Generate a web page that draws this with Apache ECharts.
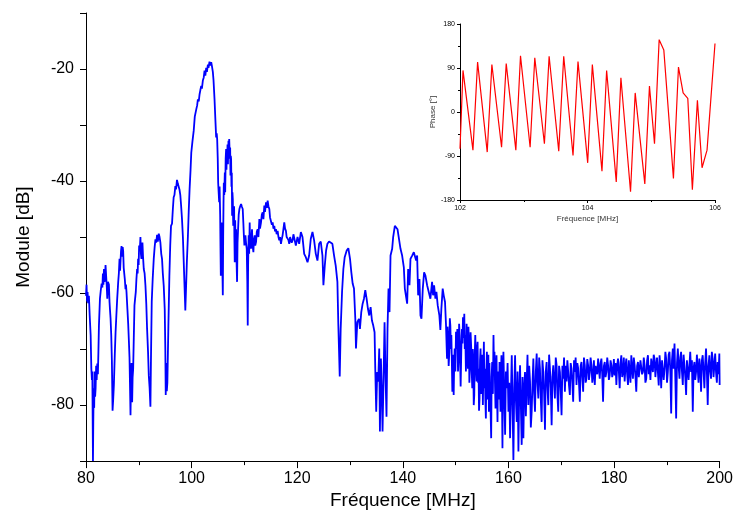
<!DOCTYPE html>
<html>
<head>
<meta charset="utf-8">
<script src="https://cdn.jsdelivr.net/npm/echarts@6/dist/echarts.min.js"></script>
<style>
html,body{margin:0;padding:0;background:#fff;}
#chart{width:736px;height:515px;}
</style>
</head>
<body>
<div id="chart"></div>
<script>
// Main spectrum: [frequency MHz, module dB]
const spectrum80to100 = [[80.0,-60.5],[80.1,-58.5],[80.2,-61.5],[80.3,-59.8],[80.4,-61.8],[80.55,-60.5],[80.7,-64],[80.88,-67.5],[81.01,-73.5],[81.12,-75.5],[81.2,-74],[81.32,-90],[81.38,-83],[81.46,-77],[81.55,-80.5],[81.64,-74],[81.73,-78.5],[81.82,-77],[81.92,-73],[82.02,-75.5],[82.14,-72.6],[82.25,-74.5],[82.35,-70.5],[82.45,-65.8],[82.64,-61],[82.8,-59.5],[82.96,-58.3],[83.1,-59],[83.2,-56.5],[83.3,-58.5],[83.4,-55.7],[83.5,-58],[83.59,-57.5],[83.7,-55],[83.84,-55],[83.94,-59],[84.03,-61],[84.15,-58],[84.34,-58.5],[84.45,-61.5],[84.53,-62.8],[84.65,-64.5],[84.78,-67.5],[84.9,-72],[85.03,-81],[85.15,-79],[85.28,-76.4],[85.45,-71],[85.6,-67],[85.75,-64],[85.91,-61],[86.1,-58],[86.22,-56.5],[86.35,-53.9],[86.45,-56],[86.54,-55.7],[86.63,-52.5],[86.73,-51.6],[86.85,-53.5],[86.95,-51.8],[87.04,-52.5],[87.14,-55.5],[87.23,-55.7],[87.35,-57.5],[87.48,-59.3],[87.57,-58.5],[87.67,-59.8],[87.85,-63],[87.99,-65.5],[88.12,-68.5],[88.24,-71.5],[88.43,-81.8],[88.52,-76],[88.62,-72.5],[88.68,-76],[88.74,-79.5],[88.83,-75],[88.93,-73.6],[89.05,-68],[89.18,-62.2],[89.3,-61],[89.43,-59.8],[89.55,-57.5],[89.68,-55.7],[89.78,-56.5],[89.87,-53.9],[89.97,-55],[90.06,-51.5],[90.18,-52.5],[90.31,-50],[90.4,-53],[90.5,-53.9],[90.6,-51.5],[90.69,-51],[90.8,-53.5],[90.94,-55.7],[91.1,-56.5],[91.26,-58.7],[91.42,-62],[91.57,-66.4],[91.75,-70.5],[91.89,-74.7],[92.05,-77],[92.2,-80.3],[92.3,-72],[92.45,-61.5],[92.63,-57.5],[92.83,-53.9],[93.0,-51.8],[93.15,-50.4],[93.3,-51],[93.46,-49.6],[93.6,-50.8],[93.78,-49.4],[93.93,-50],[94.09,-51],[94.25,-53],[94.4,-53.9],[94.55,-56.5],[94.72,-58.7],[94.91,-62.9],[95.02,-70],[95.1,-78.2],[95.16,-72.5],[95.22,-73.6],[95.3,-77.5],[95.41,-76],[95.6,-66],[95.79,-56.9],[95.95,-51.5],[96.1,-48],[96.29,-47.6],[96.45,-45],[96.6,-42.9],[96.75,-42.5],[96.92,-40.9],[97.05,-41.5],[97.23,-39.8],[97.4,-40.5],[97.55,-40.5],[97.7,-41.5],[97.86,-42.5],[98.02,-44.5],[98.18,-46.8],[98.35,-50],[98.49,-53.9],[98.65,-58.5],[98.81,-63.1],[98.95,-59],[99.1,-54.5],[99.3,-49.8],[99.45,-45.5],[99.62,-41.4],[99.8,-38],[99.94,-34.9]];

const spectrum100to119 = [[100.15,-33],[100.4,-31],[100.6,-28.5],[100.88,-27.2],[101.05,-26.5],[101.19,-25.4],[101.35,-25.8],[101.51,-24.5],[101.65,-23.8],[101.82,-23],[101.95,-23.5],[102.14,-22],[102.3,-21.5],[102.45,-20.3],[102.6,-21.2],[102.76,-19.8],[102.9,-20.5],[103.08,-19.2],[103.2,-19.8],[103.39,-18.7],[103.55,-19.4],[103.71,-18.8],[103.85,-19.5],[104.02,-20.5],[104.15,-22],[104.34,-25.4],[104.5,-29],[104.65,-32.2],[104.75,-31.5],[104.84,-32.5],[104.95,-36],[105.03,-40.3],[105.12,-42],[105.22,-43.8],[105.3,-41],[105.41,-46.2],[105.47,-52],[105.53,-56.9],[105.6,-50],[105.66,-47.4],[105.72,-55],[105.78,-52.1],[105.85,-57],[105.91,-60.4],[105.98,-50],[106.04,-44],[106.1,-40.3],[106.18,-42.5],[106.29,-38.5],[106.36,-42],[106.45,-36],[106.54,-34.3],[106.6,-38],[106.67,-35],[106.73,-36.7],[106.8,-33.5],[106.88,-37],[106.98,-32.8],[107.05,-35.5],[107.12,-32.5],[107.17,-32.2],[107.24,-36],[107.3,-34],[107.36,-39],[107.42,-35.5],[107.48,-36.1],[107.55,-41],[107.61,-38.5],[107.67,-46.2],[107.73,-42],[107.8,-43.2],[107.88,-48],[107.98,-47.4],[108.05,-44.5],[108.1,-50],[108.17,-54.5],[108.25,-47],[108.32,-51],[108.42,-48.6],[108.5,-54],[108.61,-58],[108.7,-51],[108.8,-48.6],[108.92,-46],[109.05,-45],[109.2,-44.5],[109.37,-44.1],[109.52,-44.6],[109.68,-45],[109.8,-47.5],[109.9,-49.8],[110.0,-51.5],[110.1,-50.5],[110.19,-49.7],[110.3,-51],[110.44,-52.1],[110.55,-58],[110.63,-65.8],[110.7,-55],[110.75,-52.5],[110.81,-49.7],[110.9,-53],[111.0,-47.4],[111.08,-51],[111.16,-49.5],[111.25,-52.1],[111.35,-50],[111.44,-48.6],[111.55,-51.5],[111.7,-52.7],[111.8,-50.5],[111.95,-49.7],[112.05,-51.5],[112.2,-50.9],[112.35,-49],[112.51,-48.6],[112.65,-50],[112.83,-46.8],[112.95,-48.5],[113.14,-47.4],[113.3,-46],[113.46,-45.6],[113.6,-46.8],[113.77,-44.4],[113.9,-45.5],[114.09,-43.8],[114.25,-44.8],[114.4,-43.5],[114.55,-44.5],[114.72,-45],[114.85,-46.5],[115.03,-46.8],[115.2,-47.8],[115.35,-47.4],[115.5,-48.5],[115.66,-48],[115.8,-49],[115.97,-48.6],[116.1,-49.5],[116.29,-48.9],[116.45,-50],[116.6,-50.6],[116.75,-50],[116.92,-51.2],[117.05,-50.5],[117.23,-49.7],[117.4,-48.5],[117.55,-47.4],[117.7,-48.5],[117.86,-48.9],[118.0,-50],[118.17,-49.7],[118.32,-50.5],[118.49,-51.2],[118.65,-50],[118.8,-49.7],[118.95,-51],[119.12,-50.6],[119.28,-49.5]];

const spectrum119to140 = [[119.43,-49.4],[119.74,-51.5],[120.06,-50.0],[120.37,-51.2],[120.69,-49.1],[121.0,-50.0],[121.32,-53.0],[121.63,-53.6],[121.95,-54.5],[122.26,-53.3],[122.57,-50.3],[122.89,-49.1],[123.2,-50.6],[123.52,-53.0],[123.83,-54.2],[124.15,-51.2],[124.46,-50.8],[124.78,-53.3],[124.96,-58.6],[125.22,-55.1],[125.47,-52.4],[125.72,-51.2],[126.03,-50.8],[126.35,-50.6],[126.66,-51.2],[126.98,-53.3],[127.29,-55.1],[127.61,-58.0],[127.79,-65.8],[128.05,-74.9],[128.23,-66.4],[128.49,-59.8],[128.74,-55.7],[128.99,-53.6],[129.37,-52.4],[129.68,-52.0],[130.0,-53.9],[130.25,-56.3],[130.5,-58.3],[130.75,-59.2],[131.0,-64.6],[131.13,-69.9],[131.38,-65.2],[131.69,-64.6],[131.88,-66.4],[132.13,-63.4],[132.39,-61.9],[132.64,-61.0],[132.89,-59.5],[133.14,-61.0],[133.39,-62.8],[133.64,-64.0],[133.9,-62.5],[134.15,-64.9],[134.4,-65.8],[134.65,-67.0],[134.78,-73.5],[134.96,-81.2],[135.15,-74.1],[135.34,-75.8],[135.53,-69.9],[135.66,-84.7],[135.85,-71.7],[136.03,-78.2],[136.16,-84.7],[136.35,-75.2],[136.54,-65.2],[136.73,-75.2],[136.91,-82.1],[137.1,-66.4],[137.29,-59.2],[137.48,-63.4],[137.67,-53.3],[137.98,-52.1],[138.17,-50.0],[138.49,-48.0],[138.74,-47.7],[138.99,-48.6],[139.24,-48.9],[139.56,-52.1],[139.87,-53.3],[140.19,-55.4]];

const spectrum140to159 = [[140.38,-59.2],[140.63,-59.2],[140.82,-61.9],[141.01,-55.7],[141.26,-58.6],[141.45,-53.9],[141.77,-53.3],[142.08,-52.7],[142.27,-52.4],[142.52,-54.2],[142.71,-53.3],[142.9,-60.4],[143.15,-57.5],[143.34,-64.0],[143.53,-64.6],[143.78,-59.2],[144.03,-56.3],[144.28,-56.9],[144.6,-58.6],[144.91,-58.9],[145.22,-61.0],[145.54,-58.0],[145.73,-60.4],[145.92,-58.6],[146.17,-61.0],[146.36,-59.8],[146.61,-62.2],[146.92,-64.0],[147.11,-66.6],[147.3,-62.8],[147.55,-59.2],[147.74,-60.4],[147.99,-61.6],[148.18,-65.8],[148.28,-69],[148.37,-71.7],[148.47,-66],[148.56,-67.5],[148.68,-73],[148.81,-70.5],[148.9,-64.5],[149.0,-65.8],[149.1,-70],[149.19,-67.5],[149.28,-72],[149.38,-77.6],[149.5,-71],[149.63,-78.2],[149.72,-73],[149.82,-69.9],[149.95,-74],[150.07,-66.9],[150.2,-70],[150.32,-66.4],[150.45,-74],[150.57,-71.1],[150.66,-65.5],[150.76,-67.5],[150.85,-72],[150.95,-76.7],[151.08,-70],[151.2,-66.4],[151.3,-69],[151.39,-64.3],[151.52,-68],[151.64,-63.7],[151.73,-70],[151.83,-67.5],[151.95,-74],[152.08,-65.5],[152.2,-70],[152.33,-73.5],[152.42,-66],[152.52,-68.7],[152.6,-76],[152.71,-73.5],[152.83,-67],[152.96,-69.9],[153.05,-74],[153.15,-77.0],[153.25,-70],[153.34,-72.9],[153.43,-80],[153.53,-78.2],[153.62,-71],[153.72,-67.5],[153.85,-73],[153.97,-75.8],[154.06,-70],[154.16,-68.7],[154.25,-76],[154.34,-73.5],[154.43,-81],[154.53,-78.8],[154.62,-72],[154.72,-69.9],[154.85,-78],[154.97,-75.2],[155.06,-71],[155.16,-80.0],[155.25,-74],[155.35,-68.7],[155.45,-77],[155.54,-73.5],[155.63,-79],[155.73,-82.4],[155.82,-74],[155.92,-70.5],[156.02,-79],[156.11,-75.8],[156.2,-71],[156.3,-81.2],[156.4,-72.5],[156.48,-76.4],[156.6,-80],[156.73,-85.9],[156.82,-75],[156.92,-72.3],[157.05,-78],[157.17,-67.5],[157.27,-74],[157.36,-70.5],[157.45,-76],[157.55,-80.6],[157.65,-74],[157.74,-71.1],[157.83,-77],[157.93,-83.0],[158.02,-74],[158.12,-75.8],[158.22,-79],[158.31,-72.3],[158.4,-77],[158.5,-81.2],[158.6,-74],[158.68,-71.1],[158.78,-79],[158.87,-87.7],[158.96,-76]];

const spectrum159to200 = [[159.05,-70.5],[159.21,-78],[159.37,-85.3],[159.52,-74],[159.68,-77],[159.84,-72.5],[160.0,-81.2],[160.15,-76],[160.31,-85.9],[160.47,-78],[160.63,-71.1],[160.78,-80],[160.94,-89.8],[161.1,-77],[161.26,-71.1],[161.41,-79],[161.57,-83],[161.73,-74],[161.89,-88.3],[162.04,-78],[162.2,-72.9],[162.35,-80],[162.51,-87.1],[162.67,-75],[162.83,-85.9],[162.98,-77],[163.14,-74.1],[163.3,-82],[163.46,-75.8],[163.61,-71],[163.77,-80],[163.93,-73],[164.09,-75.8],[164.24,-84],[164.4,-81.2],[164.56,-76],[164.72,-71.7],[164.87,-78],[165.03,-81.2],[165.19,-74],[165.35,-70.8],[165.5,-76],[165.66,-78.8],[165.82,-71.5],[165.97,-73.5],[166.13,-79],[166.29,-83],[166.44,-72],[166.6,-74.1],[166.76,-78],[166.92,-84.4],[167.07,-74],[167.23,-72.3],[167.39,-77],[167.55,-80],[167.7,-71],[167.86,-73.5],[168.02,-77],[168.18,-83.6],[168.33,-75],[168.49,-72.9],[168.65,-76],[168.8,-78.8],[168.96,-71.5],[169.12,-72.9],[169.27,-78],[169.43,-81.2],[169.59,-73],[169.75,-74.1],[169.9,-77.5],[170.06,-81.8],[170.22,-73],[170.38,-75.3],[170.53,-71.5],[170.69,-77.6],[170.85,-73],[171.0,-75.8],[171.16,-72],[171.32,-74.1],[171.47,-76.5],[171.63,-78.2],[171.79,-72.5],[171.95,-73.5],[172.1,-76],[172.26,-79.4],[172.42,-72],[172.58,-74.1],[172.73,-71.5],[172.89,-76.4],[173.05,-72.5],[173.21,-73.5],[173.36,-76],[173.52,-79.4],[173.68,-73],[173.83,-72.3],[173.99,-75],[174.15,-77.6],[174.3,-71.5],[174.46,-72.9],[174.62,-76],[174.78,-75.3],[174.93,-71.8],[175.09,-72.9],[175.25,-75.5],[175.41,-74.1],[175.56,-71.5],[175.72,-72.9],[175.88,-76],[176.04,-74.7],[176.19,-72],[176.35,-76.4],[176.51,-73],[176.66,-72.9],[176.82,-74.5],[176.98,-71.7],[177.14,-73.5],[177.29,-75.3],[177.45,-72.5],[177.61,-71.7],[177.76,-74.5],[177.92,-79.4],[178.08,-73],[178.24,-72.3],[178.39,-75],[178.55,-74.1],[178.71,-71.5],[178.87,-72.9],[179.02,-75.5],[179.18,-74.7],[179.34,-72],[179.5,-72.9],[179.65,-75],[179.81,-74.1],[179.97,-71.8],[180.12,-74.7],[180.28,-72.5],[180.44,-76.4],[180.59,-73],[180.75,-71.7],[180.91,-74],[181.07,-77],[181.22,-72.5],[181.38,-71.1],[181.54,-75],[181.7,-74.1],[181.85,-71.5],[182.01,-75.8],[182.17,-73],[182.33,-71.7],[182.48,-74.5],[182.64,-76.4],[182.8,-72],[182.96,-74.1],[183.11,-76],[183.27,-71.1],[183.43,-73.5],[183.58,-75.3],[183.74,-71.5],[183.9,-72.9],[184.06,-75],[184.21,-77.6],[184.37,-73],[184.53,-72.3],[184.69,-75],[184.84,-75.3],[185.0,-72],[185.16,-71.7],[185.31,-74.5],[185.47,-74.1],[185.63,-71.5],[185.79,-72.9],[185.94,-76],[186.1,-75.3],[186.26,-72],[186.42,-71.1],[186.57,-74.5],[186.73,-72.9],[186.89,-75.5],[187.04,-71.7],[187.2,-73],[187.36,-74.1],[187.51,-71],[187.67,-71.7],[187.83,-75],[187.99,-72.9],[188.14,-71.5],[188.3,-74.1],[188.46,-76.5],[188.62,-71.1],[188.77,-73],[188.93,-77],[189.09,-72],[189.25,-72.3],[189.4,-75.5],[189.56,-73.5],[189.72,-70.5],[189.87,-71.7],[190.03,-76],[190.19,-74.1],[190.34,-71],[190.5,-70.5],[190.66,-74],[190.82,-81.5],[190.97,-72],[191.13,-69.9],[191.29,-73.5],[191.45,-69],[191.6,-75],[191.76,-82.4],[191.92,-72.5],[192.08,-69.9],[192.23,-73],[192.39,-75.3],[192.55,-71.5],[192.7,-70.5],[192.86,-74],[193.02,-76.4],[193.17,-71],[193.33,-72.9],[193.49,-75],[193.65,-78.2],[193.8,-72],[193.96,-71.7],[194.12,-75.5],[194.28,-72.9],[194.43,-70.5],[194.59,-74.1],[194.75,-72],[194.91,-81.2],[195.06,-73.5],[195.22,-72.3],[195.38,-75.5],[195.53,-74.1],[195.69,-71],[195.85,-73.5],[196.0,-76],[196.16,-71.7],[196.32,-73.5],[196.48,-77.6],[196.63,-72],[196.79,-71.1],[196.95,-74],[197.11,-77],[197.26,-72.5],[197.42,-69.9],[197.58,-74],[197.74,-80],[197.89,-73],[198.05,-71.1],[198.21,-74],[198.37,-75.3],[198.52,-70.5],[198.68,-71.7],[198.84,-75],[199.0,-72.9],[199.15,-70.8],[199.31,-74.1],[199.47,-76],[199.62,-72.3],[199.78,-74.5],[199.94,-70.8],[200.0,-76.4]];

// Inset: phase [deg] vs frequency [MHz]
const phaseInset = [[102.0,-75],[102.047,85],[102.203,-78],[102.276,102],[102.427,-82],[102.5,97],[102.652,-72],[102.725,99],[102.876,-78],[102.949,115],[103.1,-72],[103.173,111],[103.324,-65],[103.398,114],[103.549,-80],[103.627,114],[103.773,-89],[103.851,103],[104.003,-104],[104.076,97],[104.227,-121],[104.3,85],[104.451,-143],[104.524,70],[104.675,-163],[104.748,39],[104.899,-147],[104.972,53],[105.051,-65],[105.124,148],[105.197,127],[105.348,-136],[105.427,92],[105.5,39],[105.573,28],[105.645,-159],[105.724,24],[105.797,-114],[105.875,-78],[106.0,140]];

const mainData = [].concat(spectrum80to100, spectrum100to119, spectrum119to140, spectrum140to159, spectrum159to200);

const FONT = 'Liberation Sans, Arial, sans-serif';
const chart = echarts.init(document.getElementById('chart'), null, {renderer: 'canvas'});

function axisBase() {
  return {
    axisLine: {show: true, onZero: false, lineStyle: {color: '#000', width: 1}},
    axisTick: {show: true, inside: false, lineStyle: {color: '#000', width: 1}},
    splitLine: {show: false},
    nameTextStyle: {color: '#000', fontFamily: FONT},
  };
}

chart.setOption({
  animation: false,
  backgroundColor: '#fff',
  grid: [
    {left: 86, top: 13, width: 636, height: 449.5, containLabel: false},
    {left: 460, top: 24, width: 255, height: 176, containLabel: false}
  ],
  xAxis: [
    Object.assign(axisBase(), {
      gridIndex: 0, type: 'value', min: 80, max: 200, interval: 20,
      name: 'Fréquence [MHz]', nameLocation: 'middle', nameGap: 25,
      nameTextStyle: {color: '#000', fontFamily: FONT, fontSize: 19},
      axisTick: {show: true, inside: false, length: 7, lineStyle: {color: '#000'}},
      minorTick: {show: true, splitNumber: 2, length: 4, lineStyle: {color: '#000'}},
      axisLabel: {color: '#000', fontFamily: FONT, fontSize: 16, margin: 9}
    }),
    Object.assign(axisBase(), {
      gridIndex: 1, type: 'value', min: 102, max: 106, interval: 2,
      name: 'Fréquence [MHz]', nameLocation: 'middle', nameGap: 15,
      nameTextStyle: {color: '#333', fontFamily: FONT, fontSize: 8},
      axisTick: {show: true, inside: false, length: 3, lineStyle: {color: '#000'}},
      minorTick: {show: true, splitNumber: 2, length: 2, lineStyle: {color: '#000'}},
      axisLabel: {color: '#000', fontFamily: FONT, fontSize: 7, margin: 5}
    })
  ],
  yAxis: [
    Object.assign(axisBase(), {
      gridIndex: 0, type: 'value', min: -90, max: -10, interval: 10,
      name: 'Module [dB]', nameLocation: 'middle', nameGap: 53,
      nameTextStyle: {color: '#000', fontFamily: FONT, fontSize: 19},
      axisTick: {show: true, inside: false, length: 6, lineStyle: {color: '#000'}},
      axisLabel: {color: '#000', fontFamily: FONT, fontSize: 16, margin: 12,
        formatter: function (v) { return (Math.round(v) % 20 === 0) ? String(v) : ''; }}
    }),
    Object.assign(axisBase(), {
      gridIndex: 1, type: 'value', min: -180, max: 180, interval: 90,
      name: 'Phase [°]', nameLocation: 'middle', nameGap: 22,
      nameTextStyle: {color: '#333', fontFamily: FONT, fontSize: 8},
      axisTick: {show: true, inside: false, length: 3, lineStyle: {color: '#000'}},
      minorTick: {show: true, splitNumber: 2, length: 2, lineStyle: {color: '#000'}},
      axisLabel: {color: '#000', fontFamily: FONT, fontSize: 7, margin: 5}
    })
  ],
  series: [
    {
      type: 'line', xAxisIndex: 0, yAxisIndex: 0, data: mainData,
      showSymbol: false, symbol: 'none', clip: true,
      lineStyle: {color: '#0000ff', width: 1.8}, itemStyle: {color: '#0000ff'}
    },
    {
      type: 'line', xAxisIndex: 1, yAxisIndex: 1, data: phaseInset,
      showSymbol: false, symbol: 'none', clip: true,
      lineStyle: {color: '#ff0000', width: 1.2}, itemStyle: {color: '#ff0000'}
    }
  ]
});
</script>
</body>
</html>
